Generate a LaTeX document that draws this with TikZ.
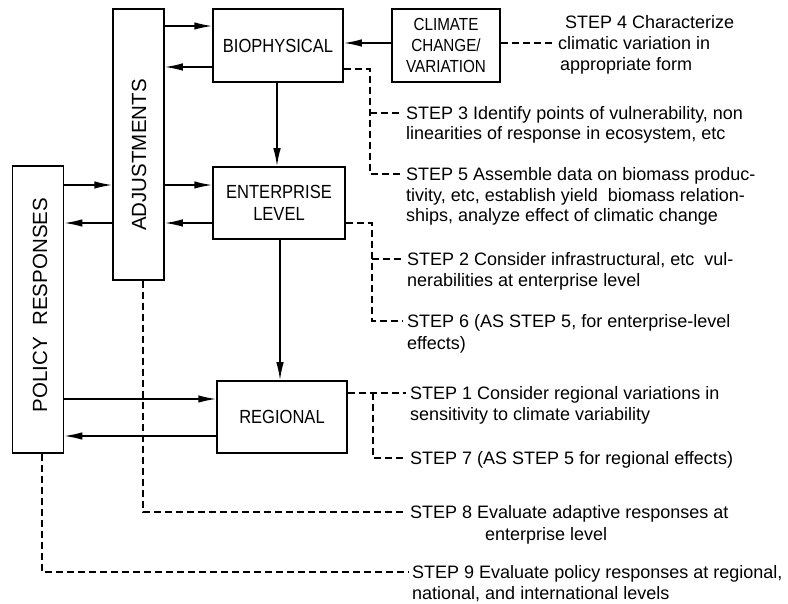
\documentclass[tikz,border=0pt]{standalone}
\usepackage{fontspec}
\setmainfont{Liberation Sans}
\newfontfamily\boxfont[FakeStretch=0.87]{Liberation Sans}
\usetikzlibrary{arrows.meta}
\begin{document}
\begin{tikzpicture}[x=1pt,y=-1pt,
  box/.style={draw,line width=1.5pt,inner sep=0pt,align=center,font=\boxfont\fontsize{19}{22}\selectfont},
  vlabel/.style={rotate=90,inner sep=0pt,font=\fontsize{20.5}{24}\selectfont},
  arr/.style={line width=1.5pt,-{Latex[length=18pt,width=7.5pt]}},
  dsh/.style={line width=1.3pt,dash pattern=on 7pt off 4pt},
  st/.style={anchor=west,inner xsep=4pt,inner ysep=0pt,text height=13pt,text depth=0pt,font=\fontsize{18}{21}\selectfont}]
\useasboundingbox (0,0) rectangle (788,604);
% boxes
\node[box,minimum width=51pt,minimum height=271pt] (adj) at (138.5,144.5) {};
\node[vlabel] (adjt) at (139,155) {ADJUSTMENTS};
\node[box,minimum width=51pt,minimum height=287pt] (pol) at (38,309.5) {};
\node[vlabel] (polt) at (40,305) {POLICY\ \ RESPONSES};
\node[box,minimum width=130pt,minimum height=73pt] (bio) at (278,45.5) {BIOPHYSICAL};
\node[box,minimum width=108pt,minimum height=73pt,font=\boxfont\fontsize{17.5}{21}\selectfont] (clim) at (446,45.5) {CLIMATE\\CHANGE/\\VARIATION};
\node[box,minimum width=132pt,minimum height=72pt] (ent) at (279,203) {ENTERPRISE\\LEVEL};
\node[box,minimum width=130pt,minimum height=72pt] (reg) at (282,417) {REGIONAL};
% step texts
\node[st] (s4a) at (561,22) {STEP 4 Characterize};
\node[st] (s4b) at (554,43) {climatic variation in};
\node[st] (s4c) at (556,64) {appropriate form};
\node[st] (s3) at (402,113) {STEP 3 Identify points of vulnerability, non};
\node[st] (s3b) at (402,133) {linearities of response in ecosystem, etc};
\node[st] (s5) at (402,174) {STEP 5 Assemble data on biomass produc-};
\node[st] (s5b) at (402,195) {tivity, etc, establish yield \ biomass relation-};
\node[st] (s5c) at (402,215) {ships, analyze effect of climatic change};
\node[st] (s2) at (403,259) {STEP 2 Consider infrastructural, etc \ vul-};
\node[st] (s2b) at (403,280) {nerabilities at enterprise level};
\node[st] (s6) at (403,321) {STEP 6 (AS STEP 5, for enterprise-level};
\node[st] (s6b) at (403,343) {effects)};
\node[st] (s1) at (406,393) {STEP 1 Consider regional variations in};
\node[st] (s1b) at (406,414) {sensitivity to climate variability};
\node[st] (s7) at (406,458) {STEP 7 (AS STEP 5 for regional effects)};
\node[st] (s8) at (406,512) {STEP 8 Evaluate adaptive responses at};
\node[st] (s8b) at (481,534) {enterprise level};
\node[st] (s9) at (408,572) {STEP 9 Evaluate policy responses at regional,};
\node[st] (s9b) at (408,593) {national, and international levels};
% levels
\coordinate (h26) at (0,26);
\coordinate (h43) at (0,43);
\coordinate (h67) at (0,67);
\coordinate (h69) at (0,69);
\coordinate (h185) at (0,185);
\coordinate (h223) at (0,223);
\coordinate (h399) at (0,399);
\coordinate (h436) at (0,436);
\coordinate (v42) at (42,0);
\coordinate (v143) at (143,0);
\coordinate (v277) at (277,0);
\coordinate (v280) at (280,0);
\coordinate (v370) at (370,0);
\coordinate (v372) at (372,0);
\coordinate (v373) at (373,0);
% solid arrows
\draw[arr] (adj.east |- h26) -- (bio.west |- h26);
\draw[arr] (bio.west |- h67) -- (adj.east |- h67);
\draw[arr] (clim.west |- h43) -- (bio.east |- h43);
\draw[arr] (bio.south -| v277) -- (ent.north -| v277);
\draw[arr] (pol.east |- h185) -- (adj.west |- h185);
\draw[arr] (adj.east |- h185) -- (ent.west |- h185);
\draw[arr] (ent.west |- h223) -- (adj.east |- h223);
\draw[arr] (adj.west |- h223) -- (pol.east |- h223);
\draw[arr] (ent.south -| v280) -- (reg.north -| v280);
\draw[arr] (pol.east |- h399) -- (reg.west |- h399);
\draw[arr] (reg.west |- h436) -- (pol.east |- h436);
% dashed connectors
\draw[dsh] (clim.east |- h43) -- (s4b.west);
\draw[dsh] (bio.east |- h69) -- (v370 |- h69) -- (v370 |- s5.west) -- (s5.west);
\draw[dsh] (v370 |- s3.west) -- (s3.west);
\draw[dsh] (ent.east |- h223) -- (v372 |- h223) -- (v372 |- s6.west) -- (s6.west);
\draw[dsh] (v372 |- s2.west) -- (s2.west);
\draw[dsh] (reg.east |- s1.west) -- (s1.west);
\draw[dsh] (v373 |- s1.west) -- (v373 |- s7.west) -- (s7.west);
\draw[dsh] (adj.south -| v143) -- (v143 |- s8.west) -- (s8.west);
\draw[dsh] (pol.south -| v42) -- (v42 |- s9.west) -- (s9.west);
\end{tikzpicture}
\end{document}
